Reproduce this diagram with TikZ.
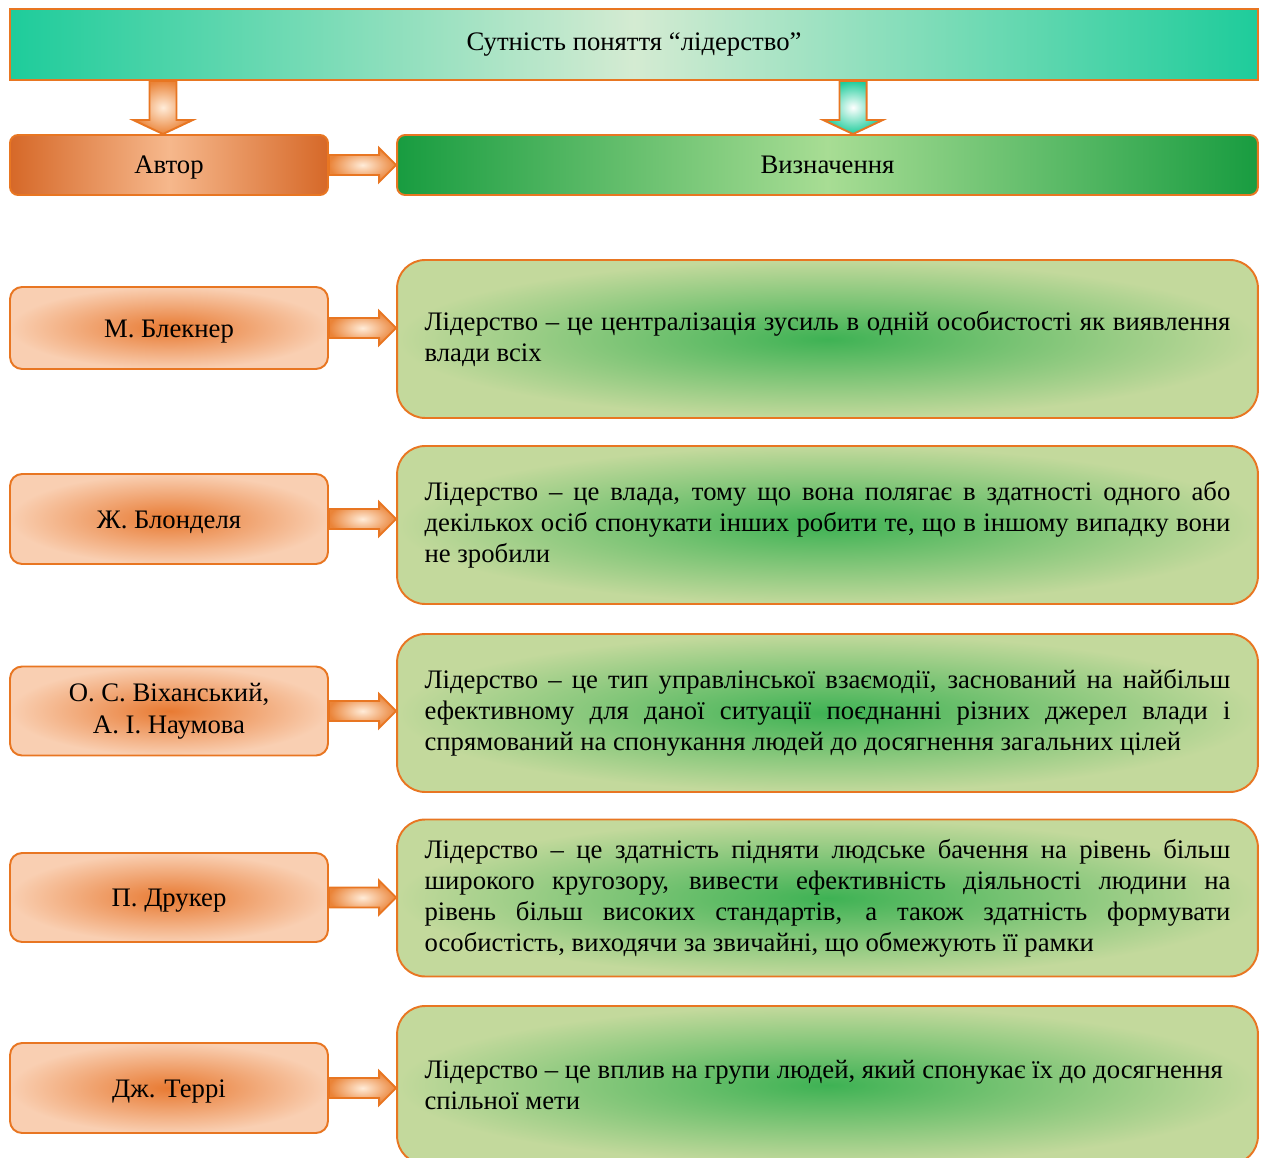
\documentclass[tikz,border=0pt]{standalone}
\usepackage{fontspec}
\setmainfont{Liberation Serif}
\usetikzlibrary{calc,positioning}
\definecolor{edgeorange}{RGB}{232,118,34}
\definecolor{bannerteal}{RGB}{30,204,155}
\definecolor{bannerpale}{RGB}{212,235,210}
\definecolor{rust}{RGB}{214,104,40}
\definecolor{peach}{RGB}{246,184,140}
\definecolor{darkgreen}{RGB}{24,156,64}
\definecolor{palegreen}{RGB}{168,221,148}
\definecolor{authorout}{RGB}{249,207,178}
\definecolor{authorin}{RGB}{232,122,50}
\definecolor{defout}{RGB}{195,217,156}
\definecolor{defin}{RGB}{62,178,84}
\hyphenpenalty=10000
% block arrows between two nodes
\newcommand{\blockright}[3][]{%
  \draw[arrowbox,#1] let \p1=(#2), \p2=(#3) in
    (\x1,\y1+5.7pt) -- (\x2-9.7pt,\y1+5.7pt) -- (\x2-9.7pt,\y1+9.7pt) -- (\x2,\y1)
    -- (\x2-9.7pt,\y1-9.7pt) -- (\x2-9.7pt,\y1-5.7pt) -- (\x1,\y1-5.7pt) -- cycle;}
\newcommand{\blockdown}[3][]{%
  \draw[arrowbox,#1] let \p1=(#2), \p2=(#3) in
    (\x2-7.7pt,\y1) -- (\x2-7.7pt,\y2+8pt) -- (\x2-17pt,\y2+8pt) -- (\x2,\y2)
    -- (\x2+17pt,\y2+8pt) -- (\x2+7.7pt,\y2+8pt) -- (\x2+7.7pt,\y1) -- cycle;}

\begin{document}
\begin{tikzpicture}[x=0.02cm, y=-0.02cm,
    every node/.style={font=\fontsize{15.2}{17.6}\selectfont, text=black},
    banner/.style={rectangle, draw=edgeorange, line width=1.1pt,
      minimum width=24.96cm, minimum height=1.42cm,
      left color=bannerteal, right color=bannerteal, middle color=bannerpale},
    headbox/.style={rectangle, rounded corners=0.16cm, draw=edgeorange, line width=1.1pt,
      minimum height=1.2cm, text height=12pt, text depth=2pt},
    author/.style={rectangle, rounded corners=0.24cm, draw=edgeorange, line width=1.1pt,
      minimum width=6.36cm, align=center, text height=12.5pt, text depth=2pt,
      inner color=authorin, outer color=authorout},
    defn/.style={rectangle, rounded corners=0.56cm, draw=edgeorange, line width=1.1pt,
      text width=16.12cm, inner xsep=0.55cm, align=justify,
      inner color=defin, outer color=defout},
    arrowbox/.style={draw=edgeorange, line width=1.1pt, line join=miter,
      inner color=white!85!orange, outer color=edgeorange!90!white}]
  \useasboundingbox (0,0) rectangle (1264,1158);

  \node[banner] (title) at (634,44.5) {Сутність поняття “лідерство”};
  \node[headbox, minimum width=6.36cm, left color=rust, right color=rust, middle color=peach]
    (ahead) at (169,165) {Автор};
  \node[headbox, minimum width=17.22cm, left color=darkgreen, right color=darkgreen,
    middle color=palegreen] (dhead) at (827.5,165) {Визначення};

  \node[author, minimum height=1.64cm] (a1) at (169,328) {М. Блекнер};
  \node[author, minimum height=1.8cm] (a2) at (169,519) {Ж. Блонделя};
  \node[author, minimum height=1.78cm, text height=, text depth=,
    font=\fontsize{15.2}{18.2}\selectfont] (a3) at (169,711) {О. С. Віханський,\\А. І. Наумова};
  \node[author, minimum height=1.78cm] (a4) at (169,897.5) {П. Друкер};
  \node[author, minimum height=1.8cm] (a5) at (169,1088) {Дж. Террі};

  \node[defn, minimum height=3.16cm] (d1) at (827.5,339)
    {Лідерство – це централізація зусиль в одній особистості як виявлення\linebreak влади всіх};
  \node[defn, minimum height=3.16cm] (d2) at (827.5,525)
    {Лідерство – це влада, тому що вона полягає в здатності одного або\linebreak
     декількох осіб спонукати інших робити те, що в іншому випадку вони\linebreak не зробили};
  \node[defn, minimum height=3.16cm] (d3) at (827.5,713)
    {Лідерство – це тип управлінської взаємодії, заснований на найбільш\linebreak
     ефективному для даної ситуації поєднанні різних джерел влади і\linebreak
     спрямований на спонукання людей до досягнення загальних цілей};
  \node[defn, minimum height=3.14cm] (d4) at (827.5,898)
    {Лідерство – це здатність підняти людське бачення на рівень більш\linebreak
     широкого кругозору, вивести ефективність діяльності людини на\linebreak
     рівень більш високих стандартів, а також здатність формувати\linebreak
     особистість, виходячи за звичайні, що обмежують її рамки};
  \node[defn, minimum height=3.16cm] (d5) at (827.5,1085)
    {Лідерство – це вплив на групи людей, який спонукає їх до досягнення\\ спільної мети};

  % arrows
  \blockdown{title.south}{[xshift=-0.12cm]ahead.north}
  \blockdown[inner color=white, outer color=bannerteal]{title.south}{[xshift=0.51cm]dhead.north}
  \blockright{ahead.east}{dhead.west}
  \blockright{a1.east}{d1.west}
  \blockright{a2.east}{d2.west}
  \blockright{a3.east}{d3.west}
  \blockright{a4.east}{d4.west}
  \blockright{a5.east}{d5.west}
\end{tikzpicture}
\end{document}
